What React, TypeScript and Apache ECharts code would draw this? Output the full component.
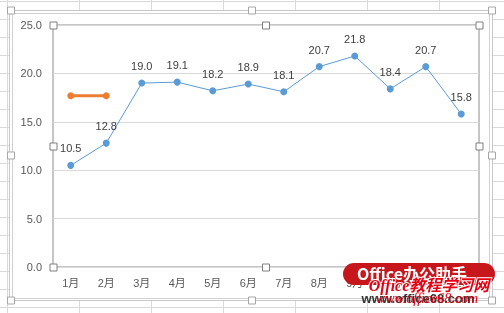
import React, { useEffect, useRef } from "react";
import * as echarts from "echarts";

const categories = ["1月", "2月", "3月", "4月", "5月", "6月", "7月", "8月", "9月", "10月", "11月", "12月"];
const mainValues = [10.5, 12.8, 19.0, 19.1, 18.2, 18.9, 18.1, 20.7, 21.8, 18.4, 20.7, 15.8];
const refValues = [17.7, 17.7, null, null, null, null, null, null, null, null, null, null];
const yMin = 0;
const yMax = 25;
const yInterval = 5;

const W = 504;
const H = 313;
const PL = 53, PR = 479, PT = 25, PB = 267;

function handle(cx: number, cy: number, stroke: string) {
  return {
    type: "rect",
    z: 50,
    shape: { x: cx - 3.5, y: cy - 3.5, width: 7, height: 7 },
    style: { fill: "#ffffff", stroke, lineWidth: 1 },
  };
}

export default function App() {
  const ref = useRef<HTMLDivElement>(null);
  useEffect(() => {
    if (!ref.current) return;
    const chart = echarts.init(ref.current, undefined, { renderer: "svg" });
    const bg: any[] = [];
    bg.push({ type: "rect", z: -20, shape: { x: 0, y: 0, width: W, height: H }, style: { fill: "#ffffff" } });
    for (let x = 7.5; x < W; x += 72) {
      bg.push({ type: "line", z: -19, shape: { x1: x, y1: 0, x2: x, y2: H }, style: { stroke: "#d9d9d9", lineWidth: 1 } });
    }
    for (let y = 0.5; y < H; y += 18.05) {
      bg.push({ type: "line", z: -19, shape: { x1: 0, y1: Math.round(y) + 0.5, x2: W, y2: Math.round(y) + 0.5 }, style: { stroke: "#d9d9d9", lineWidth: 1 } });
    }
    bg.push({ type: "rect", z: -18, shape: { x: 9.5, y: 10.5, width: 483, height: 290 }, style: { fill: "#ffffff", stroke: "#c8c8c8", lineWidth: 1 } });
    bg.push({ type: "rect", z: -18, shape: { x: 12.5, y: 13.5, width: 477, height: 285 }, style: { fill: "#ffffff", stroke: "#d0d0d0", lineWidth: 1 } });

    const handles: any[] = [
      handle(11, 10.5, "#a6a6a6"), handle(252, 10.5, "#a6a6a6"), handle(492, 10.5, "#a6a6a6"),
      handle(11, 155.5, "#a6a6a6"), handle(492, 155.5, "#a6a6a6"),
      handle(11, 300.5, "#a6a6a6"), handle(252, 300.5, "#a6a6a6"), handle(492, 300.5, "#a6a6a6"),
      handle(PL + 0.5, PT + 0.5, "#7f7f7f"), handle(266, PT + 0.5, "#7f7f7f"), handle(PR + 0.5, PT + 0.5, "#7f7f7f"),
      handle(PL + 0.5, 146.5, "#7f7f7f"), handle(PR + 0.5, 146.5, "#7f7f7f"),
      handle(PL + 0.5, PB + 0.5, "#7f7f7f"), handle(266, PB + 0.5, "#7f7f7f"), handle(PR + 0.5, PB + 0.5, "#7f7f7f"),
    ];

    const watermark: any[] = [
      { type: "rect", z: 100, shape: { x: 343, y: 263, width: 152, height: 22, r: 11 }, style: { fill: "#c8161d" } },
      { type: "text", z: 101, x: 412, y: 273, style: { text: "Office办公助手", fill: "#ffffff", font: "bold 16px 'Noto Sans CJK SC', sans-serif", align: "center", verticalAlign: "middle" } },
      { type: "text", z: 102, x: 429, y: 285, style: { text: "Office教程学习网", fill: "#e60012", stroke: "#ffffff", lineWidth: 2, font: "italic bold 16px 'Liberation Serif', 'Noto Sans CJK SC', serif", align: "center", verticalAlign: "middle" } },
      { type: "text", z: 101, x: 418, y: 298, style: { text: "www.office68.com", fill: "#333333", font: "bold 13px 'Liberation Sans', sans-serif", align: "center", verticalAlign: "middle" } },
      { type: "text", z: 102, x: 427, y: 298, style: { text: "www.office68.com", fill: "#e60012", font: "italic 14px 'Liberation Serif', serif", align: "center", verticalAlign: "middle" } },
    ];

    chart.setOption({
      animation: false,
      textStyle: { fontFamily: "'Liberation Sans', 'Noto Sans CJK SC', sans-serif" },
      grid: {
        left: PL, right: W - PR, top: PT, bottom: H - PB,
        show: true, borderColor: "#8c8c8c", borderWidth: 1, backgroundColor: "transparent",
      },
      xAxis: {
        type: "category",
        data: categories,
        boundaryGap: true,
        axisLine: { show: false },
        axisTick: { show: false },
        axisLabel: { color: "#595959", fontSize: 11, margin: 10, interval: 0 },
      },
      yAxis: {
        type: "value",
        min: yMin, max: yMax, interval: yInterval,
        axisLine: { show: false },
        axisTick: { show: false },
        splitLine: { lineStyle: { color: "#d9d9d9", width: 1 } },
        axisLabel: { color: "#595959", fontSize: 11, margin: 11, formatter: (v: number) => v.toFixed(1) },
      },
      series: [
        {
          type: "line",
          data: mainValues,
          symbol: "circle",
          symbolSize: 7,
          lineStyle: { color: "#5b9bd5", width: 1 },
          itemStyle: { color: "#5b9bd5" },
          label: { show: true, position: "top", distance: 8, color: "#404040", fontSize: 11, formatter: (p: any) => Number(p.value).toFixed(1) },
          z: 3,
        },
        {
          type: "line",
          data: refValues,
          symbol: "circle",
          symbolSize: 7,
          lineStyle: { color: "#ed7d31", width: 3 },
          itemStyle: { color: "#ed7d31" },
          z: 4,
        },
      ],
      graphic: { elements: [...bg, ...handles, ...watermark] },
    });
    return () => chart.dispose();
  }, []);
  return <div ref={ref} style={{ position: "fixed", left: 0, top: 0, width: W, height: H }} />;
}
